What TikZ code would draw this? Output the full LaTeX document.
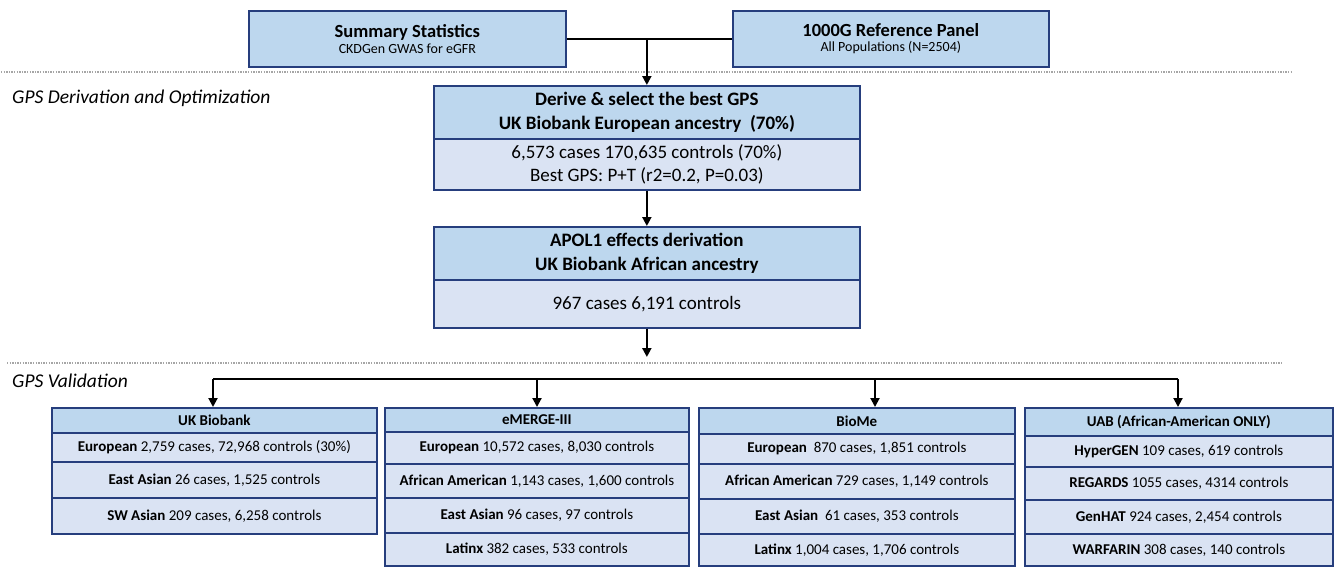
\documentclass[tikz,border=0pt]{standalone}
\usepackage{fontspec}
\setmainfont{Carlito}
\usetikzlibrary{arrows.meta}
\definecolor{hdrfill}{RGB}{189,215,238}
\definecolor{rowfill}{RGB}{218,227,243}
\definecolor{bord}{RGB}{38,62,125}
\newcommand{\mycell}[7]{\node[#6, minimum width=#4pt, minimum height=#5pt] (#1) at (#2,#3) {#7};}
\begin{document}
\begin{tikzpicture}[x=1pt,y=-1pt,
  box/.style={draw=bord, line width=1.7pt, inner sep=0pt, anchor=north west, align=center},
  hbox/.style={box, fill=hdrfill},
  rbox/.style={box, fill=rowfill},
  big/.style={font=\fontsize{19}{23.5}\selectfont},
  small/.style={font=\fontsize{15}{18}\selectfont},
  arr/.style={-{Triangle[length=9pt,width=9pt]}, line width=2pt},
  conn/.style={line width=2pt},
  sep/.style={gray!70, line width=1.2pt, dash pattern=on 1.3pt off 1.3pt},
  lab/.style={anchor=west, inner sep=0pt, font=\fontsize{19.5}{22}\selectfont\itshape}]
\useasboundingbox (0,0) rectangle (1340,566);

% separators and section labels
\draw[sep] (1,72) -- (1292,72);
\draw[sep] (7,363) -- (1283,363);
\node[lab] (l1) at (12,98) {GPS Derivation and Optimization};
\node[lab] (l2) at (12,381) {GPS Validation};

% top boxes
\mycell{sum}{248}{10}{317}{56}{hbox}{{\fontsize{18.5}{20}\selectfont\bfseries Summary Statistics}\\[3pt]{\fontsize{14}{17}\selectfont CKDGen GWAS for eGFR}}
\mycell{kg}{732}{10}{316}{56}{hbox}{{\fontsize{18.5}{20}\selectfont\bfseries 1000G Reference Panel}\\[3pt]{\fontsize{14}{17}\selectfont All Populations (N=2504)}}
\draw[conn] (sum.east) -- (kg.west);

% derivation
\mycell{der}{433}{85}{426}{53}{hbox,big}{\bfseries Derive \& select the best GPS\\\bfseries UK Biobank European ancestry \ (70\%)}
\mycell{derb}{433}{138}{426}{51}{rbox,big}{6,573 cases 170,635 controls (70\%)\\Best GPS: P+T (r2=0.2, P=0.03)}
\coordinate (mid) at (der.north |- sum.east);
\draw[arr] (mid) -- (der.north);

\mycell{apo}{433}{226}{426}{53}{hbox,big}{\bfseries APOL1 effects derivation\\\bfseries UK Biobank African ancestry}
\mycell{apob}{433}{279}{426}{48}{rbox,big}{967 cases 6,191 controls}
\draw[arr] (derb.south) -- (apo.north);
\coordinate (aend) at (apob.south |- 0,357);
\draw[arr] (apob.south) -- (aend);

% validation tables
% UK Biobank
\mycell{ukh}{51}{407}{325}{25}{hbox,small}{\bfseries UK Biobank}
\mycell{uk1}{51}{432}{325}{29}{rbox,small}{\textbf{European} 2,759 cases, 72,968 controls (30\%)}
\mycell{uk2}{51}{461}{325}{36}{rbox,small}{\textbf{East Asian} 26 cases, 1,525 controls}
\mycell{uk3}{51}{497}{325}{36}{rbox,small}{\textbf{SW Asian} 209 cases, 6,258 controls}
% eMERGE
\mycell{emh}{384}{407}{304}{24}{hbox,small}{\bfseries eMERGE-III}
\mycell{em1}{384}{431}{304}{32}{rbox,small}{\textbf{European} 10,572 cases, 8,030 controls}
\mycell{em2}{384}{463}{304}{34}{rbox,small}{\textbf{African American} 1,143 cases, 1,600 controls}
\mycell{em3}{384}{497}{304}{35}{rbox,small}{\textbf{East Asian} 96 cases, 97 controls}
\mycell{em4}{384}{532}{304}{33}{rbox,small}{\textbf{Latinx} 382 cases, 533 controls}
% BioMe
\mycell{bmh}{698}{407}{316}{26}{hbox,small}{\bfseries BioMe}
\mycell{bm1}{698}{433}{316}{30}{rbox,small}{\textbf{European} \ 870 cases, 1,851 controls}
\mycell{bm2}{698}{463}{316}{35}{rbox,small}{\textbf{African American} 729 cases, 1,149 controls}
\mycell{bm3}{698}{498}{316}{35}{rbox,small}{\textbf{East Asian} \ 61 cases, 353 controls}
\mycell{bm4}{698}{533}{316}{32}{rbox,small}{\textbf{Latinx} 1,004 cases, 1,706 controls}
% UAB
\mycell{uah}{1024}{407}{308}{28}{hbox,small}{\bfseries UAB (African-American ONLY)}
\mycell{ua1}{1024}{435}{308}{31}{rbox,small}{\textbf{HyperGEN} 109 cases, 619 controls}
\mycell{ua2}{1024}{466}{308}{33}{rbox,small}{\textbf{REGARDS} 1055 cases, 4314 controls}
\mycell{ua3}{1024}{499}{308}{34}{rbox,small}{\textbf{GenHAT} 924 cases, 2,454 controls}
\mycell{ua4}{1024}{533}{308}{32}{rbox,small}{\textbf{WARFARIN} 308 cases, 140 controls}

% bracket
\coordinate (b1) at (213,379);
\coordinate (b2) at (537,379);
\coordinate (b3) at (875,379);
\coordinate (b4) at (1178,379);
\draw[conn] (b1) -- (b4);
\draw[arr] (b1) -- (b1 |- ukh.north);
\draw[arr] (b2) -- (b2 |- emh.north);
\draw[arr] (b3) -- (b3 |- bmh.north);
\draw[arr] (b4) -- (b4 |- uah.north);
\end{tikzpicture}
\end{document}
